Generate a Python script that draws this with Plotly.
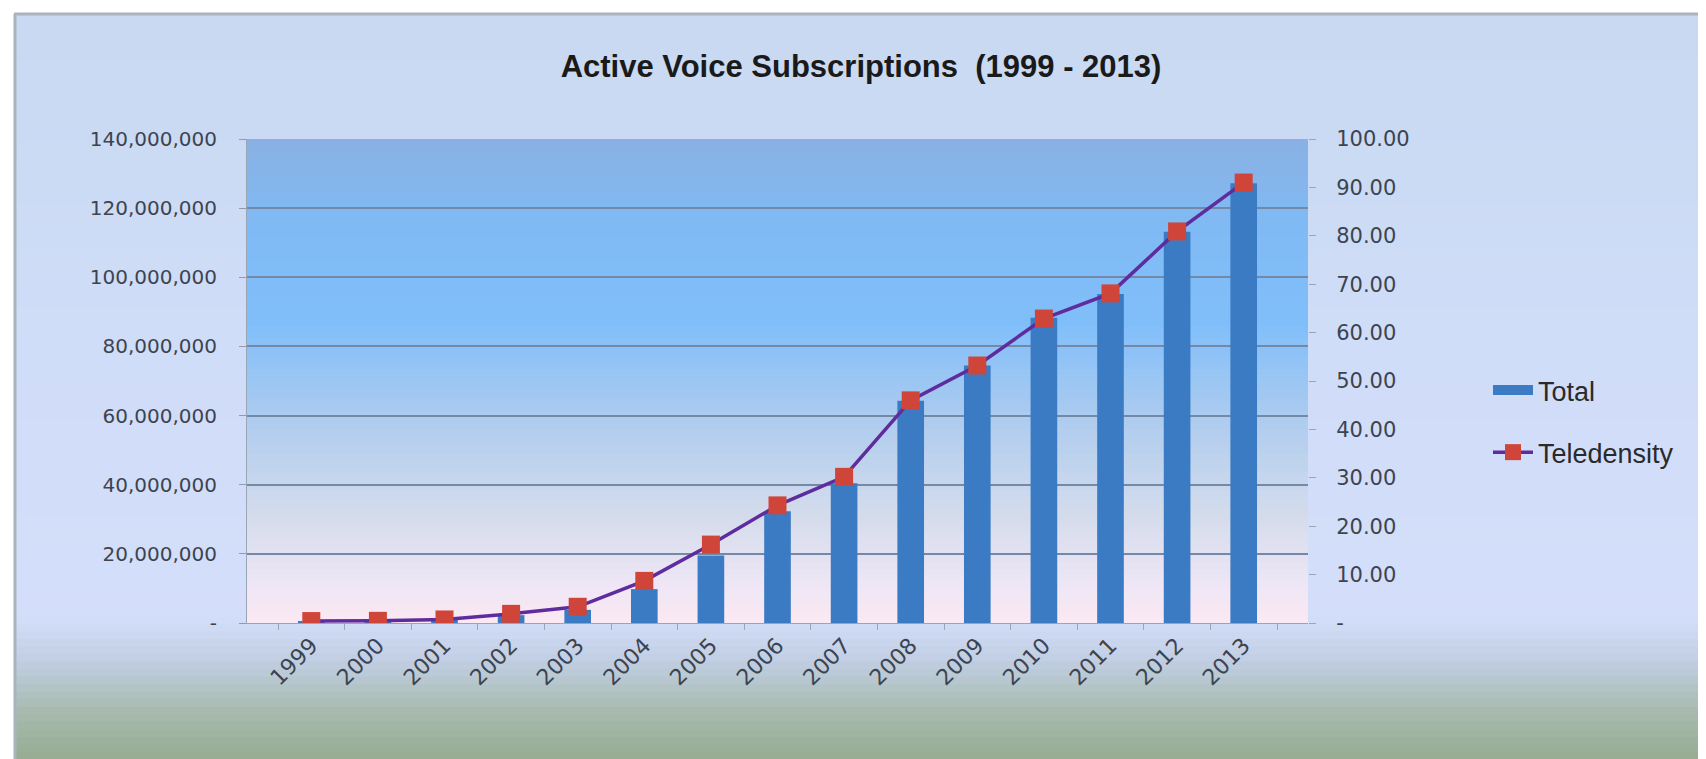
import plotly.graph_objects as go

years = ["1999", "2000", "2001", "2002", "2003", "2004", "2005", "2006",
         "2007", "2008", "2009", "2010", "2011", "2012", "2013"]
total = [450000, 500000, 870000, 2270000, 3800000, 9800000, 19500000, 32300000,
         40400000, 64300000, 74500000, 88300000, 95200000, 113200000, 127200000]
teledensity = [0.40, 0.45, 0.73, 1.89, 3.35, 8.7, 16.2, 24.3,
               30.2, 46.0, 53.2, 62.9, 68.1, 80.9, 91.0]

left_ticks = [0, 20e6, 40e6, 60e6, 80e6, 100e6, 120e6, 140e6]
right_ticks = [0, 10, 20, 30, 40, 50, 60, 70, 80, 90, 100]

BAR_COLOR = "#3b7bc4"
LINE_COLOR = "#5f2c9e"
MARKER_COLOR = "#d0453a"

W, H = 1706, 759
L, R, T, B = 239, 1300, 131, 615
pw, ph = R - L, B - T


def lerp(c1, c2, t):
    return tuple(int(round(a + (b - a) * t)) for a, b in zip(c1, c2))


def grad(stops, t):
    for (t0, c0), (t1, c1) in zip(stops, stops[1:]):
        if t0 <= t <= t1:
            return lerp(c0, c1, (t - t0) / (t1 - t0) if t1 > t0 else 0)
    return stops[-1][1]


def px2paper_y(y):
    return (B - y) / ph


def px2paper_x(x):
    return (x - L) / pw


shapes = []
# outer background gradient (vertical)
outer_stops = [(0, (200, 217, 241)), (0.45, (208, 221, 248)), (0.80, (212, 222, 250)),
               (0.86, (192, 206, 226)), (0.93, (166, 185, 172)), (1.0, (148, 170, 140))]
n = 100
for i in range(n):
    y0 = 6 + (H - 6) * i / n
    y1 = 6 + (H - 6) * (i + 1) / n + 1
    c = grad(outer_stops, (i + 0.5) / n)
    shapes.append(dict(type="rect", xref="paper", yref="paper", layer="below",
                       x0=px2paper_x(6), x1=px2paper_x(W - 4),
                       y0=px2paper_y(y0), y1=px2paper_y(y1),
                       fillcolor="rgb(%d,%d,%d)" % c, line=dict(width=0)))
# plot-area gradient
plot_stops = [(0, (137, 177, 228)), (0.18, (128, 186, 244)), (0.38, (128, 190, 250)),
              (0.6, (178, 205, 238)), (0.78, (212, 220, 236)), (0.92, (238, 230, 245)),
              (1.0, (251, 232, 242))]
n = 80
for i in range(n):
    y0 = T + ph * i / n
    y1 = T + ph * (i + 1) / n + 0.8
    c = grad(plot_stops, (i + 0.5) / n)
    shapes.append(dict(type="rect", xref="paper", yref="paper", layer="below",
                       x0=0, x1=1, y0=px2paper_y(y0), y1=px2paper_y(min(y1, B)),
                       fillcolor="rgb(%d,%d,%d)" % c, line=dict(width=0)))
# frame lines (top / left)
shapes.append(dict(type="line", xref="paper", yref="paper", layer="below",
                   x0=px2paper_x(6), x1=px2paper_x(W - 4), y0=px2paper_y(6), y1=px2paper_y(6),
                   line=dict(color="#a9b3bf", width=3)))
shapes.append(dict(type="line", xref="paper", yref="paper", layer="below",
                   x0=px2paper_x(7), x1=px2paper_x(7), y0=px2paper_y(6), y1=px2paper_y(H),
                   line=dict(color="#a9b3bf", width=3)))

fig = go.Figure()
fig.add_trace(go.Bar(x=years, y=total, name="Total", marker=dict(color=BAR_COLOR, line=dict(width=0)),
                     yaxis="y", showlegend=False))
fig.add_trace(go.Scatter(x=years, y=teledensity, name="Teledensity", yaxis="y2", mode="lines+markers",
                         line=dict(color=LINE_COLOR, width=3.5), showlegend=False,
                         marker=dict(symbol="square", size=18, color=MARKER_COLOR, line=dict(width=0))))
# legend proxies (no data) to mimic the wide bar swatch
fig.add_trace(go.Scatter(x=[None], y=[None], name="Total", mode="lines", legendgroup="a",
                         line=dict(color=BAR_COLOR, width=14)))
fig.add_trace(go.Scatter(x=[None], y=[None], name="Teledensity", mode="lines+markers", legendgroup="b",
                         yaxis="y2", line=dict(color=LINE_COLOR, width=3.5),
                         marker=dict(symbol="square", size=17, color=MARKER_COLOR, line=dict(width=0))))

tick_font = dict(family="DejaVu Sans", size=20, color="#3d4450")

fig.update_layout(
    width=W, height=H,
    margin=dict(l=L, r=W - R, t=T, b=H - B, autoexpand=False),
    paper_bgcolor="white",
    plot_bgcolor="rgba(0,0,0,0)",
    shapes=shapes,
    bargap=0.6,
    title=dict(text="Active Voice Subscriptions  (1999 - 2013)", x=853 / W, xanchor="center",
               y=1 - 58 / H, yanchor="middle",
               font=dict(family="Liberation Sans Narrow, Liberation Sans", size=31, color="#1a1a1a",
                         weight="bold")),
    xaxis=dict(type="category", tickangle=-45, tickfont=dict(family="DejaVu Sans", size=22, color="#3d4450"),
               ticks="outside", tickson="boundaries", ticklen=6, tickcolor="#9aa6b8",
               showline=True, linecolor="#9aa6b8", linewidth=1, showgrid=False),
    yaxis=dict(range=[0, 140e6], tickvals=left_ticks,
               ticktext=["-" if v == 0 else f"{int(v):,}" for v in left_ticks],
               tickfont=tick_font, showgrid=True, gridcolor="#7489a6", gridwidth=1.5,
               ticks="outside", ticklen=7, tickcolor="#8e9bb0", ticklabelstandoff=18,
               showline=True, linecolor="#9aa6b8", zeroline=False),
    yaxis2=dict(range=[0, 100], overlaying="y", side="right", tickvals=right_ticks,
                ticktext=["-" if v == 0 else f"{v:.2f}" for v in right_ticks],
                tickfont=dict(family="DejaVu Sans", size=21, color="#3d4450"),
                showgrid=False, ticks="outside", ticklen=7, tickcolor="#9aa6b8",
                ticklabelstandoff=16, showline=False, zeroline=False),
    legend=dict(x=px2paper_x(1480), y=px2paper_y(358), xanchor="left", yanchor="top",
                bgcolor="rgba(0,0,0,0)", tracegroupgap=24, traceorder="grouped",
                itemwidth=40,
                font=dict(family="Liberation Sans Narrow, Liberation Sans", size=27, color="#2a2a2a")),
    showlegend=True,
)

fig.write_html("out.html")
